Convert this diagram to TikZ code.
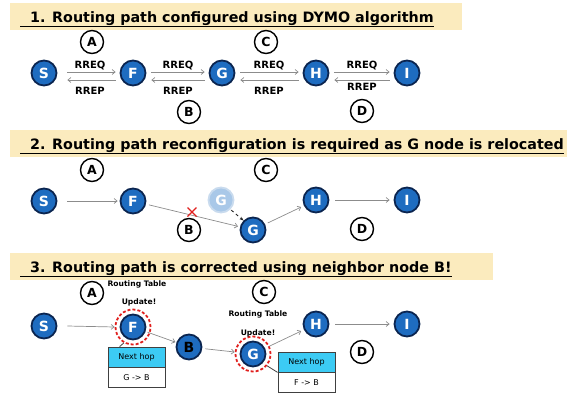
\documentclass[tikz,border=0pt]{standalone}
\usepackage{fontspec}
\setmainfont{DejaVu Sans}
\usetikzlibrary{positioning,arrows.meta}
\definecolor{bandyellow}{HTML}{FBEBBE}
\definecolor{nodeblue}{HTML}{1E6CC0}
\definecolor{nodeedge}{HTML}{0B2550}
\definecolor{ghostblue}{HTML}{A9C8E8}
\definecolor{ghostedge}{HTML}{C9DBEE}
\definecolor{hopcyan}{HTML}{3CCBF4}
\definecolor{linkgray}{HTML}{8C8C8C}
\definecolor{updred}{HTML}{E0201E}
\begin{document}
\begin{tikzpicture}[x=1pt, y=-1pt,
            band/.style={fill=bandyellow, draw=none},
            title/.style={anchor=base west, inner sep=0, font=\fontsize{14.3}{16}\selectfont\bfseries},
            nd/.style={circle, draw=nodeedge, line width=1.8pt, fill=nodeblue, text=white, inner sep=0, minimum size=25pt, font=\fontsize{14}{14}\selectfont\bfseries},
            ghost/.style={nd, draw=ghostedge, fill=ghostblue},
            lbl/.style={circle, draw=black, line width=1.4pt, fill=white, inner sep=0, minimum size=23pt, font=\fontsize{12.5}{12.5}\selectfont\bfseries},
            msg/.style={font=\fontsize{10}{10}\selectfont\bfseries, inner sep=0},
            link/.style={draw=linkgray, line width=0.7pt, -{Straight Barb[length=3pt,width=5pt]}},
            note/.style={font=\fontsize{7.6}{8}\selectfont\bfseries, inner sep=0},
            ring/.style={circle, draw=updred, line width=1.8pt, dash pattern=on 3pt off 2pt, minimum size=35pt, inner sep=0},
            hopcell/.style={draw=black!75, line width=0.8pt, fill=hopcyan, minimum width=57pt, minimum height=20pt, inner sep=0, font=\fontsize{8}{8}\selectfont},
            rowcell/.style={hopcell, fill=white},
        ]
        \useasboundingbox (0,0) rectangle (582,394);

        % 1. DYMO
        \fill[band] (10,3) rectangle (462,30);
        \node[title] (T1) at (20,22) {\underline{\ \ 1. Routing path configured using DYMO algorithm}};
        \node[nd] (S1) at (44,73) {S};
        \node[nd] (F1) at (133,73) {F};
        \node[nd] (G1) at (222,73) {G};
        \node[nd] (H1) at (316,73) {H};
        \node[nd] (I1) at (407,73) {I};
        \node[lbl] (A1) at (92,42) {A};
        \node[lbl] (C1) at (266,42) {C};
        \node[lbl] (B1) at (189,112) {B};
        \node[lbl] (D1) at (362,111) {D};
        \draw[link] ([xshift=10pt,yshift=1pt]S1.east) -- ([xshift=-4pt,yshift=1pt]F1.west);
        \draw[link] ([xshift=-4pt,yshift=-7pt]F1.west) -- ([xshift=10pt,yshift=-7pt]S1.east);
        \draw[link] ([xshift=5pt,yshift=1pt]F1.east) -- ([xshift=-4pt,yshift=1pt]G1.west);
        \draw[link] ([xshift=-4pt,yshift=-7pt]G1.west) -- ([xshift=5pt,yshift=-7pt]F1.east);
        \draw[link] ([xshift=5pt,yshift=1pt]G1.east) -- ([xshift=-4pt,yshift=1pt]H1.west);
        \draw[link] ([xshift=-4pt,yshift=-7pt]H1.west) -- ([xshift=5pt,yshift=-7pt]G1.east);
        \draw[link] ([xshift=5pt,yshift=1pt]H1.east) -- ([xshift=-4pt,yshift=1pt]I1.west);
        \draw[link] ([xshift=-4pt,yshift=-7pt]I1.west) -- ([xshift=5pt,yshift=-7pt]H1.east);
        \node[msg] at (90,66) {RREQ};
        \node[msg] at (90,91) {RREP};
        \node[msg] at (178,66) {RREQ};
        \node[msg] at (178,91) {RREP};
        \node[msg] at (269,66) {RREQ};
        \node[msg] at (269,91) {RREP};
        \node[msg] at (362,66) {RREQ};
        \node[msg] at (362,87) {RREP};

        % 2. G relocated
        \fill[band] (10,130) rectangle (567,157);
        \node[title] (T2) at (20,149) {\underline{\ \ 2. Routing path reconfiguration is required as G node is relocated}};
        \node[nd] (S2) at (44,201) {S};
        \node[nd] (F2) at (133,201) {F};
        \node[ghost] (G2old) at (221,200) {G};
        \node[nd] (G2) at (253,230) {G};
        \node[nd] (H2) at (316,200) {H};
        \node[nd] (I2) at (407,200) {I};
        \node[lbl] (A2) at (92,170) {A};
        \node[lbl] (C2) at (266,170) {C};
        \node[lbl] (B2) at (189,230) {B};
        \node[lbl] (D2) at (362,229) {D};
        \draw[link] ([xshift=10pt]S2.east) -- ([xshift=-2pt]F2.west);
        \draw[link, shorten <=3pt, shorten >=2pt] (F2) -- (G2);
        \draw[black!85, line width=0.9pt, dashed, -{Stealth[length=4pt]}, shorten <=1pt] (G2old.south east) -- (G2.north west);
        \draw[link, shorten <=3pt, shorten >=3pt] (G2) -- (H2);
        \draw[link] ([xshift=6pt]H2.east) -- ([xshift=-4pt]I2.west);
        \coordinate (X2) at (192,212);
        \draw[updred, line width=1.3pt] ([shift={(-4.5,-4.5)}]X2) -- ([shift={(4.5,4.5)}]X2)
            ([shift={(-4.5,4.5)}]X2) -- ([shift={(4.5,-4.5)}]X2);

        % 3. corrected via B
        \fill[band] (10,253) rectangle (493,280);
        \node[title] (T3) at (20,272) {\underline{\ \ 3. Routing path is corrected using neighbor node B!}};
        \node[nd] (S3) at (44,326) {S};
        \node[nd] (F3) at (133,327) {F};
        \node[nd, text=black] (B3) at (189,347) {B};
        \node[nd] (G3) at (253,354) {G};
        \node[nd] (H3) at (316,324) {H};
        \node[nd] (I3) at (407,324) {I};
        \node[ring] (F3upd) at (F3) {};
        \node[ring] (G3upd) at (G3) {};
        \node[lbl] (A3) at (92,293) {A};
        \node[lbl] (C3) at (264,292) {C};
        \node[lbl] (D3) at (362,352) {D};
        \node[note] (rt1) at (137,284) {Routing Table};
        \node[note] (up1) at (139,302) {Update!};
        \node[note] (rt2) at (258,314) {Routing Table};
        \node[note] (up2) at (258,333) {Update!};
        \node[hopcell] (hop1) at (136.5,357) {Next hop};
        \node[rowcell, below=0pt of hop1] (via1) {G -> B};
        \node[hopcell] (hop2) at (306.5,362) {Next hop};
        \node[rowcell, below=0pt of hop2] (via2) {F -> B};
        \draw[black!75, line width=0.8pt] (F3upd.240) -- ([xshift=12pt]hop1.north west);
        \draw[black!75, line width=0.8pt] (G3upd.-40) -- (hop2.south west);
        \draw[link] ([xshift=10pt]S3.east) -- (F3upd.west);
        \draw[link, shorten <=2pt, shorten >=1pt] (F3) -- (B3);
        \draw[link, shorten <=3pt] (B3) -- (G3upd);
        \draw[link, shorten >=3pt] (G3upd) -- (H3);
        \draw[link] ([xshift=6pt]H3.east) -- ([xshift=-4pt]I3.west);
    \end{tikzpicture}
\end{document}
